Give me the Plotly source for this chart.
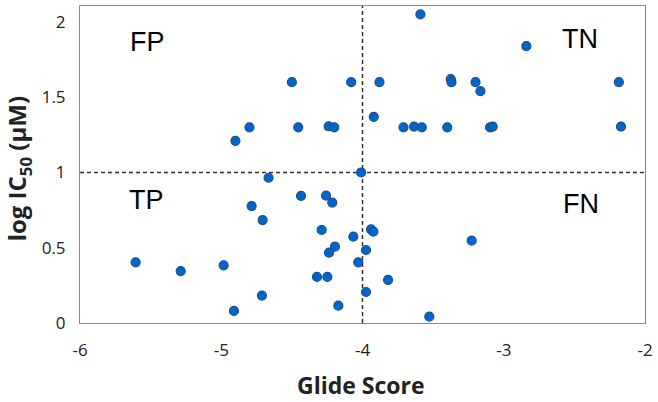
import plotly.graph_objects as go

# Glide score vs measured activity
glide_score = [
    -4.50, -4.08, -3.88, -3.92, -4.80, -4.90, -4.455, -4.24, -4.20, -4.665, -4.01,
    -3.59, -2.84, -3.375, -3.37, -3.20, -3.165, -2.185,
    -3.71, -3.635, -3.58, -3.40, -3.097, -3.078, -2.17,
    -4.435, -4.258, -4.214, -4.785, -4.707, -4.289, -4.065, -3.94, -3.923,
    -4.195, -4.237, -3.975, -4.03, -5.606, -5.287, -4.983, -4.322, -4.249,
    -3.975, -4.712, -4.171, -4.91, -3.227, -3.819, -3.527,
]
log_ic50 = [
    1.60, 1.60, 1.60, 1.37, 1.30, 1.21, 1.30, 1.307, 1.30, 0.965, 1.00,
    2.05, 1.84, 1.62, 1.60, 1.60, 1.54, 1.60,
    1.30, 1.305, 1.30, 1.30, 1.30, 1.305, 1.305,
    0.844, 0.846, 0.80, 0.777, 0.684, 0.618, 0.574, 0.622, 0.607,
    0.507, 0.467, 0.485, 0.403, 0.403, 0.345, 0.383, 0.306, 0.306,
    0.206, 0.182, 0.115, 0.08, 0.547, 0.286, 0.042,
]

x_ticks = [-6, -5, -4, -3, -2]
x_ticktext = ["-6", "-5", "-4", "-3", "-2"]
y_ticks = [0, 0.5, 1, 1.5, 2]
y_ticktext = ["0", "0.5", "1", "1.5", "2"]

score_cutoff = -4
activity_cutoff = 1

quadrants = ["FP", "TN", "TP", "FN"]
quad_x = [-5.52, -2.46, -5.53, -2.45]
quad_y = [1.87, 1.89, 0.82, 0.79]

fig = go.Figure()

fig.add_trace(go.Scatter(
    x=glide_score, y=log_ic50, mode="markers",
    marker=dict(size=9, color="#0066CC", line=dict(color="#1F4E8C", width=1.2)),
    showlegend=False,
))

dash_line = dict(color="#333333", width=1.5, dash="4px,3px")
fig.add_vline(x=score_cutoff, line=dash_line, layer="below")
fig.add_hline(y=activity_cutoff, line=dash_line, layer="below")

for q, qx, qy in zip(quadrants, quad_x, quad_y):
    fig.add_annotation(x=qx, y=qy, text=q, showarrow=False,
                       font=dict(family="Liberation Sans", size=27, color="black"))

axis_font = dict(family="Open Sans", size=17, color="#222222")

# axis titles as annotations so they sit where the original puts them
fig.add_annotation(x=0.497, y=-0.196, xref="paper", yref="paper", text="<b>Glide Score</b>",
                   showarrow=False, xanchor="center", yanchor="middle",
                   font=dict(family="Open Sans", size=23, color="#222222"))
fig.add_annotation(x=-0.109, y=0.486, xref="paper", yref="paper", text="<b>log IC<sub>50</sub> (μM)</b>",
                   showarrow=False, xanchor="center", yanchor="middle", textangle=-90,
                   font=dict(family="Open Sans", size=24, color="#222222"))

fig.update_xaxes(
    range=[-6, -2], tickvals=x_ticks, ticktext=x_ticktext,
    showgrid=False, zeroline=False, showline=True, linecolor="#8c8c8c", linewidth=1,
    mirror=True, ticks="", tickfont=axis_font, ticklabelstandoff=12, automargin=False,
)
fig.update_yaxes(
    range=[0, 2.106], tickvals=y_ticks, ticktext=y_ticktext,
    showgrid=False, zeroline=False, showline=True, linecolor="#8c8c8c", linewidth=1,
    mirror=True, ticks="", tickfont=axis_font, ticklabelstandoff=10, automargin=False,
)

fig.update_layout(
    width=658, height=402,
    margin=dict(l=80, r=13, t=6, b=79),
    plot_bgcolor="white", paper_bgcolor="white",
)

# drop the default 8px page margin so the figure fills the window
fig.write_html("out.html", config={"displayModeBar": False},
               post_script="document.body.style.margin = '0';")
